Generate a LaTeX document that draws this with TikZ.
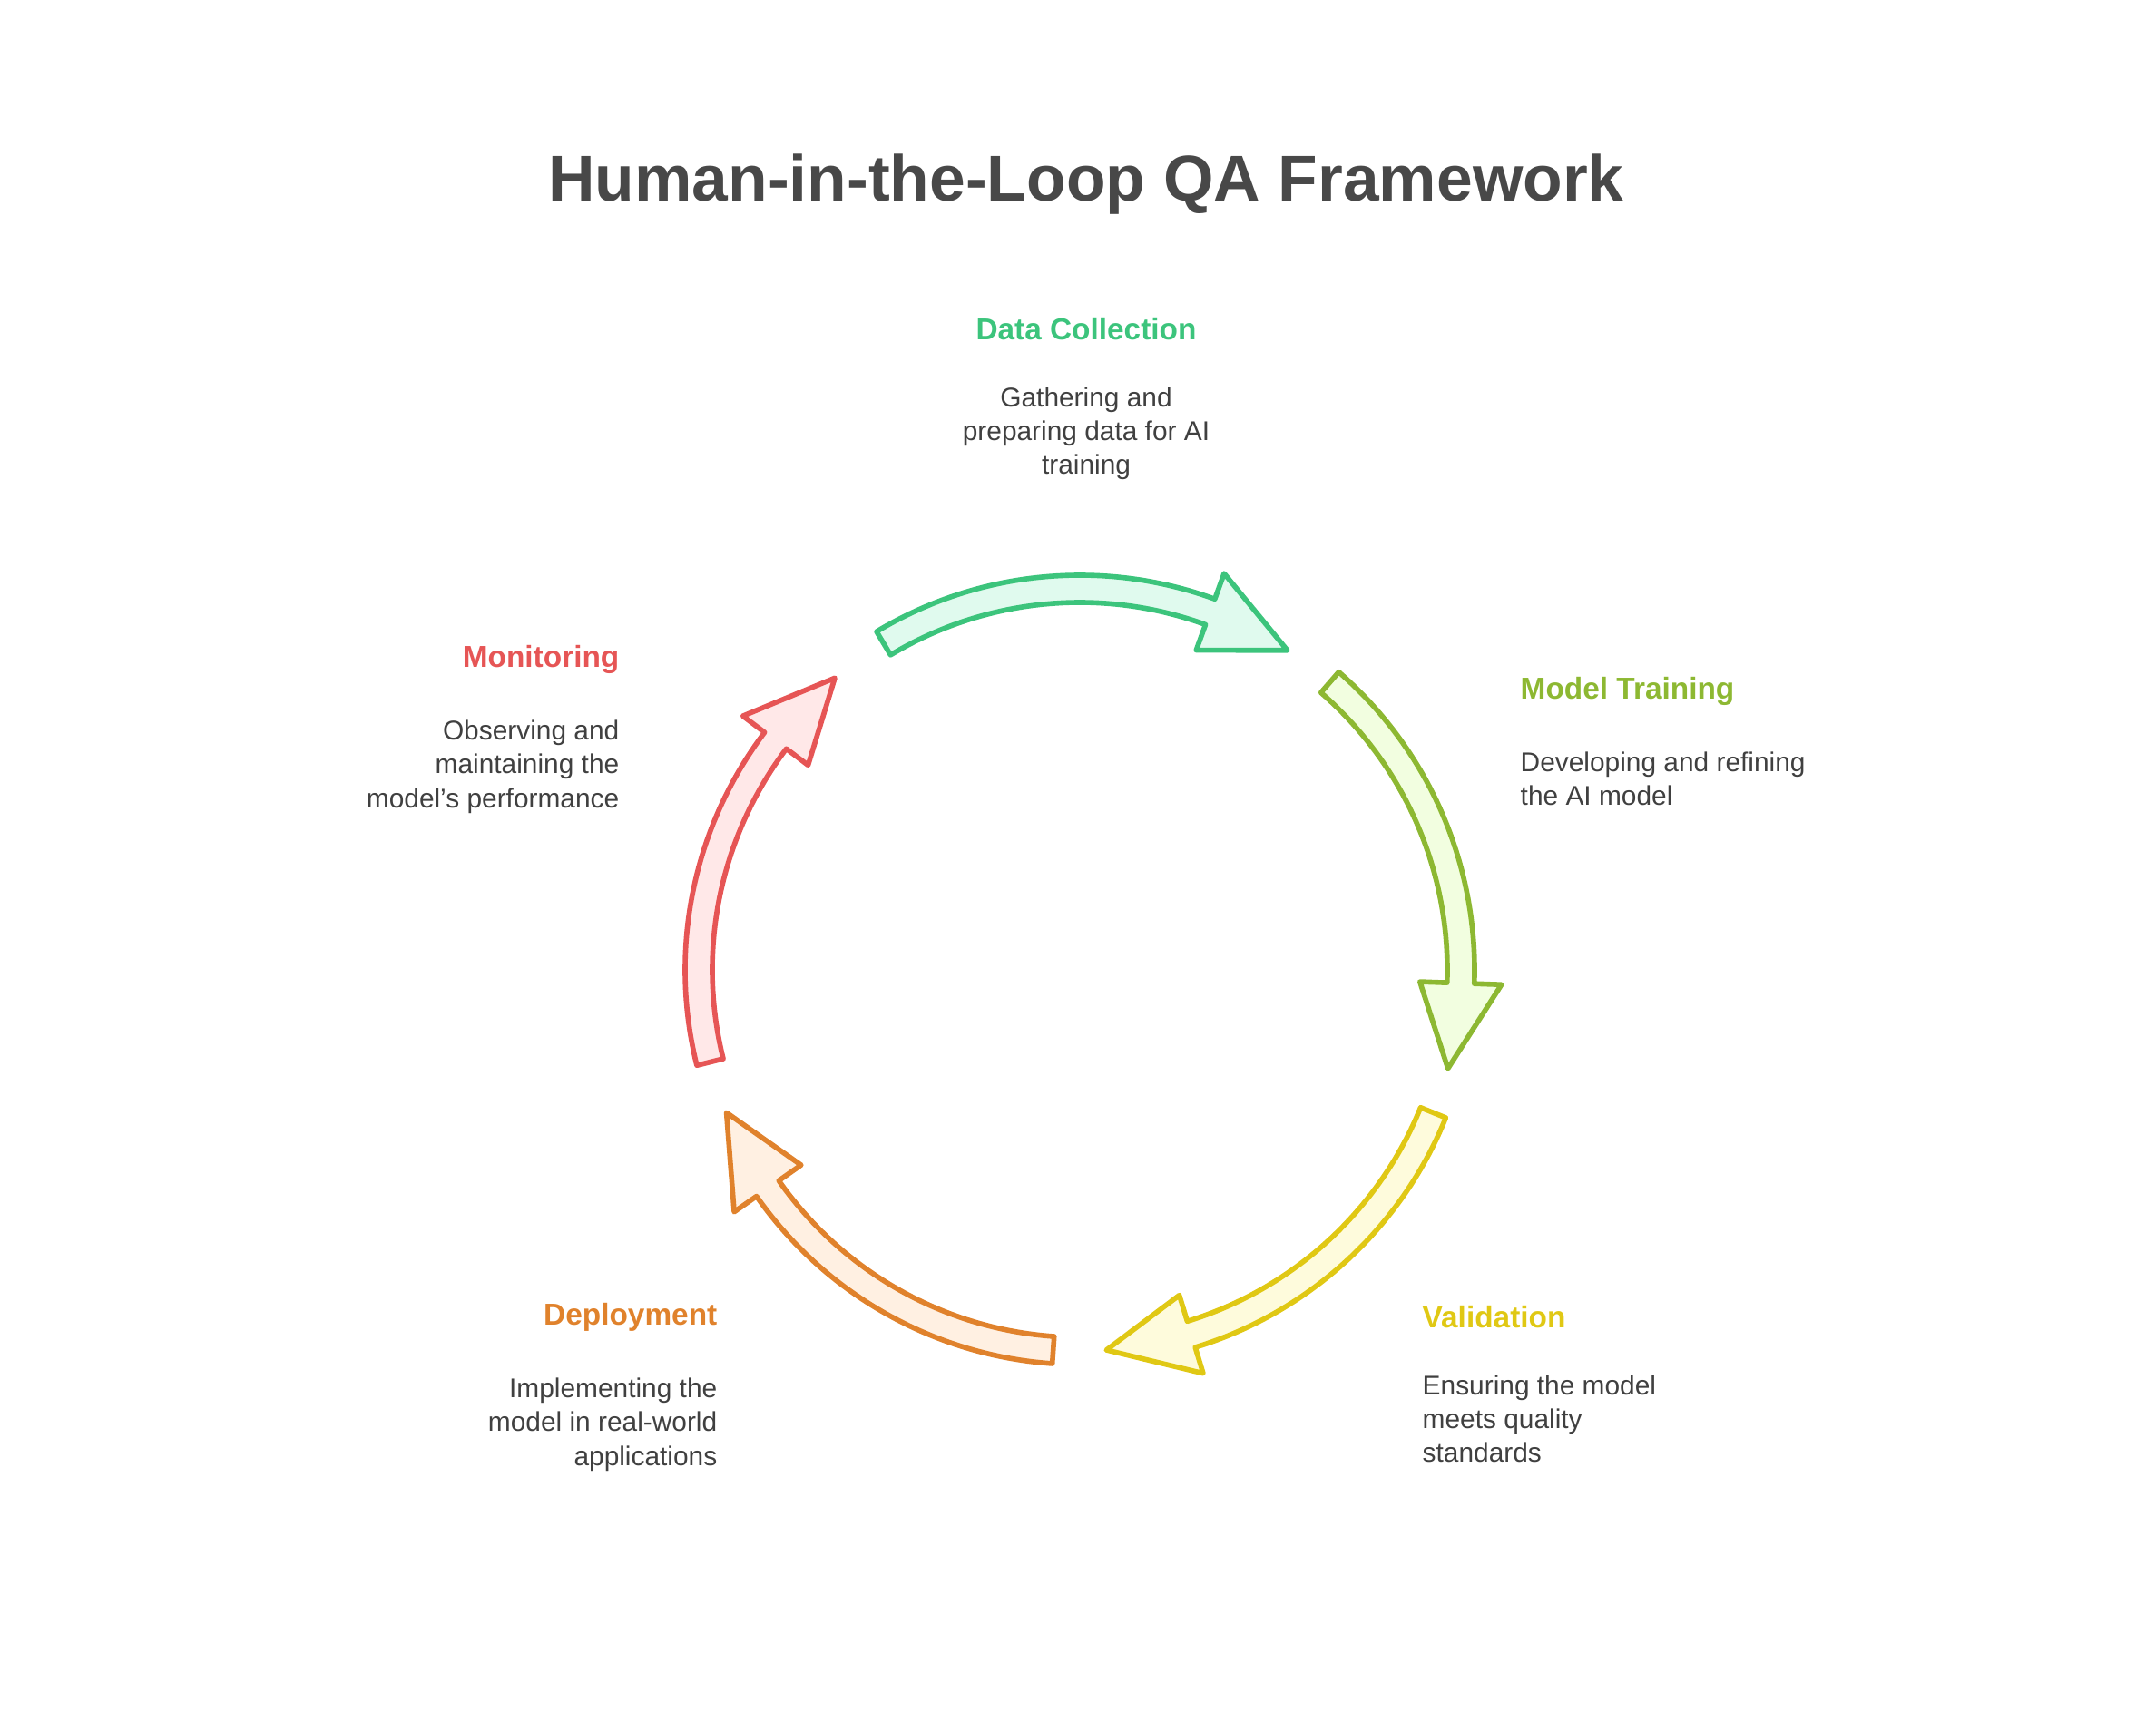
\documentclass[tikz,border=0pt]{standalone}
\usepackage{fontspec}
\setmainfont{Liberation Sans}
\usetikzlibrary{positioning}
\definecolor{txt}{HTML}{404040}
\definecolor{ttl}{HTML}{484848}
\definecolor{cgreen}{HTML}{3CC47C}\definecolor{fgreen}{HTML}{E0FAEE}
\definecolor{colive}{HTML}{8DB832}\definecolor{folive}{HTML}{F2FEE0}
\definecolor{cyellow}{HTML}{E0C814}\definecolor{fyellow}{HTML}{FEFBDC}
\definecolor{corange}{HTML}{E0822C}\definecolor{forange}{HTML}{FFF0E2}
\definecolor{cred}{HTML}{E65555}\definecolor{fred}{HTML}{FFE8E8}
\tikzset{
  head/.style={font=\fontsize{9.5}{12}\selectfont\bfseries, inner sep=0pt},
  body/.style={font=\fontsize{8.5}{10.6}\selectfont, text=txt, inner sep=0pt},
  cyc/.style={line width=1.6pt, line join=round}
}
\begin{document}
\begin{tikzpicture}
    \useasboundingbox (0,0) rectangle (23.76,-19.08);
    \node (title) at (11.97,-2.03) {\fontsize{20.3}{24}\selectfont\bfseries\color{ttl}Human-in-the-Loop QA Framework};
    % cycle arrows
    \foreach \a/\c in {121/green, 49/olive, -22/yellow, -94/orange, -166/red}
      \draw [cyc, draw=c\c, fill=f\c, shift={(11.9,-10.69)}]
        (\a:4.35) arc (\a:\a-51:4.35) -- (\a-51:4.65) -- (\a-64:4.2)
        -- (\a-51:3.75) -- (\a-51:4.05) arc (\a-51:\a:4.05) -- cycle;
    % labels
    \node [head, text=cgreen] (data) at (11.97,-3.63) {Data Collection};
    \node [body, align=center, below=0.5cm of data] (datab) {Gathering and\\preparing data for AI\\training};
    \node [head, text=colive, anchor=west] (train) at (16.75,-7.62) {Model Training};
    \node [body, align=left, anchor=north west] (trainb) at ([yshift=-0.5cm]train.south west) {Developing and refining\\the AI model};
    \node [head, text=cyellow, anchor=west] (valid) at (15.67,-14.52) {Validation};
    \node [body, align=left, anchor=north west] (validb) at ([yshift=-0.5cm]valid.south west) {Ensuring the model\\meets quality\\standards};
    \node [head, text=corange, anchor=east] (deploy) at (7.91,-14.52) {Deployment};
    \node [body, align=right, anchor=north east] (deployb) at ([yshift=-0.5cm]deploy.south east) {Implementing the\\model in real-world\\applications};
    \node [head, text=cred, anchor=east] (monit) at (6.83,-7.27) {Monitoring};
    \node [body, align=right, anchor=north east] (monitb) at ([yshift=-0.5cm]monit.south east) {Observing and\\maintaining the\\model's performance};
\end{tikzpicture}
\end{document}
